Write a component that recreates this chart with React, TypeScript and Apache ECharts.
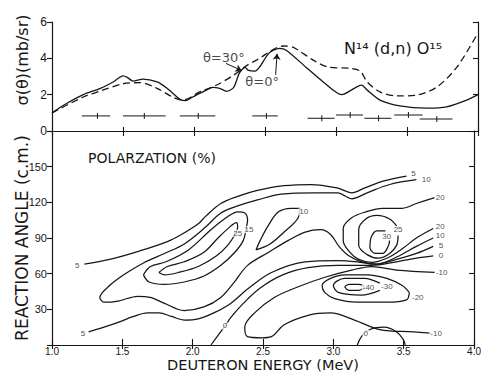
import React, { useEffect, useRef } from "react";
import * as echarts from "echarts";

const FONT = "DejaVu Sans";
const NUM_FONT = "Liberation Sans";
const INK = "#161616";

// ---------- top panel: cross section sigma(theta) vs deuteron energy ----------
const sigmaTheta0: number[][] = [
  [1.0, 1.0], [1.1, 1.5], [1.22, 2.0], [1.34, 2.35], [1.43, 2.7], [1.5, 3.03], [1.53, 2.95],
  [1.57, 2.75], [1.64, 2.86], [1.74, 2.7], [1.81, 2.35], [1.9, 1.75], [1.94, 1.67], [1.99, 1.87],
  [2.09, 2.26], [2.13, 2.4], [2.18, 2.35], [2.23, 2.18], [2.28, 2.4], [2.32, 3.2], [2.36, 3.5],
  [2.38, 3.35], [2.43, 3.3], [2.46, 3.5], [2.53, 4.3], [2.6, 4.55], [2.65, 4.45], [2.79, 3.5],
  [2.91, 2.7], [3.04, 2.0], [3.18, 2.53], [3.22, 2.25], [3.31, 1.7], [3.45, 1.38], [3.64, 1.26],
  [3.78, 1.33], [3.92, 1.7], [4.0, 2.0],
];
const sigmaTheta30: number[][] = [
  [1.0, 1.0], [1.22, 1.87], [1.34, 2.2], [1.5, 2.6], [1.62, 2.66], [1.74, 2.35], [1.85, 1.87],
  [1.92, 1.7], [2.04, 2.15], [2.16, 2.53], [2.28, 3.08], [2.37, 3.6], [2.44, 3.9], [2.63, 4.68],
  [2.7, 4.6], [2.84, 3.9], [2.94, 3.53], [3.1, 3.45], [3.17, 3.3], [3.22, 2.7], [3.31, 2.15],
  [3.43, 1.93], [3.57, 1.98], [3.71, 2.42], [3.85, 3.5], [4.0, 5.4],
];
// [centre energy, sigma, low energy, high energy]
const energySpread: number[][] = [
  [1.32, 0.83, 1.21, 1.41], [1.65, 0.83, 1.5, 1.8], [2.03, 0.83, 1.9, 2.15],
  [2.51, 0.83, 2.41, 2.59], [2.9, 0.7, 2.8, 2.99], [3.1, 0.88, 3.0, 3.19],
  [3.3, 0.7, 3.2, 3.39], [3.51, 0.88, 3.41, 3.61], [3.71, 0.66, 3.59, 3.82],
];
const thetaNotes: [string, number, number][] = [["θ=30°", 2.21, 4.02], ["θ=0°", 2.48, 2.72]];
const thetaArrows: number[][][] = [
  [[2.225, 3.72], [2.335, 3.33]],
  [[2.575, 3.1], [2.585, 4.25]],
];

// ---------- bottom panel: polarization contours (energy, angle) ----------
const c5Upper = [
  [1.23, 68], [1.41, 72], [1.62, 79], [1.82, 87], [1.92, 93], [2.04, 102], [2.09, 108], [2.2, 119],
  [2.32, 125], [2.46, 130], [2.65, 134], [2.84, 135], [3.03, 132], [3.13, 128], [3.22, 132],
  [3.36, 138], [3.52, 142],
];
const c10 = [
  [3.59, 139], [3.4, 135], [3.24, 128], [3.13, 123], [3.03, 128], [2.87, 128], [2.63, 127],
  [2.46, 122], [2.32, 117], [2.2, 111], [2.09, 99], [1.94, 85], [1.8, 77], [1.65, 69], [1.51, 59],
  [1.4, 49], [1.34, 40], [1.37, 36], [1.47, 37], [1.61, 41], [1.7, 40], [1.8, 35], [1.94, 29],
  [2.08, 32], [2.2, 40], [2.29, 52], [2.39, 67], [2.54, 78], [2.68, 88], [2.8, 95], [2.91, 97],
  [2.98, 93], [3.04, 83], [3.11, 75], [3.2, 70], [3.31, 68], [3.45, 74], [3.59, 83], [3.71, 90],
];
const c15 = [
  [1.65, 59], [1.7, 66], [1.81, 70], [1.97, 80], [2.13, 97], [2.25, 108], [2.32, 112], [2.37, 111],
  [2.39, 105], [2.38, 98], [2.36, 88], [2.3, 78], [2.2, 67], [2.08, 58], [1.94, 53], [1.8, 51],
  [1.69, 53], [1.65, 59],
];
const c25Left = [
  [1.76, 61], [1.82, 66], [1.94, 70], [2.08, 78], [2.18, 90], [2.27, 100], [2.31, 103], [2.32, 99],
  [2.3, 93], [2.25, 84], [2.17, 75], [2.04, 66], [1.9, 61], [1.8, 59], [1.76, 61],
];
const c10Island = [
  [2.45, 80], [2.48, 88], [2.54, 101], [2.61, 112], [2.7, 115], [2.76, 115], [2.75, 107],
  [2.65, 95], [2.55, 85], [2.45, 80],
];
const c20 = [
  [3.72, 124], [3.59, 119], [3.49, 115], [3.35, 115], [3.23, 112], [3.13, 107], [3.07, 98],
  [3.07, 88], [3.11, 79], [3.18, 72], [3.27, 69.5], [3.38, 73], [3.49, 81], [3.59, 90], [3.71, 98],
];
const c25Right = [
  [3.45, 100], [3.4, 106], [3.31, 109], [3.23, 106], [3.18, 97], [3.18, 84], [3.24, 76],
  [3.32, 73], [3.4, 77], [3.45, 84], [3.46, 92],
];
const c30 = [[3.37, 96], [3.31, 96], [3.27, 91], [3.26, 82], [3.3, 77], [3.35, 77], [3.39, 83], [3.4, 88]];
const c5Lower = [
  [1.26, 11], [1.37, 15], [1.47, 19], [1.58, 24], [1.68, 27], [1.76, 27], [1.85, 24], [1.94, 21],
  [2.04, 22], [2.15, 27], [2.27, 35], [2.39, 47], [2.56, 61], [2.8, 70], [3.03, 71], [3.17, 70],
  [3.29, 68], [3.45, 72], [3.59, 77], [3.71, 83],
];
const c0Lower = [
  [2.13, 0], [2.18, 8], [2.23, 16], [2.27, 23], [2.36, 35], [2.48, 48], [2.64, 59], [2.82, 65],
  [3.03, 67], [3.27, 67], [3.45, 70], [3.59, 73], [3.71, 75],
];
const cMinus10 = [
  [3.72, 61], [3.45, 63], [3.27, 66], [3.13, 63], [2.94, 57], [2.75, 49], [2.58, 40], [2.44, 27],
  [2.37, 15], [2.39, 7], [2.49, 6], [2.56, 7], [2.65, 17], [2.82, 25], [2.98, 27], [3.15, 21],
  [3.33, 13], [3.57, 11], [3.69, 10],
];
const cMinus20 = [
  [3.54, 44], [3.49, 50], [3.38, 56], [3.24, 59], [3.08, 59], [2.98, 56], [2.92, 50], [2.94, 44],
  [3.01, 39], [3.17, 36], [3.38, 36], [3.52, 38], [3.54, 44],
];
const cMinus30 = [[3.33, 52], [3.22, 56], [3.08, 56], [3.0, 50], [3.04, 44], [3.2, 42], [3.33, 46]];
const cMinus40 = [[3.08, 49], [3.11, 51], [3.18, 51], [3.22, 49], [3.18, 46], [3.11, 46], [3.08, 49]];
const c0Dome = [[3.17, 0], [3.2, 7], [3.26, 13], [3.36, 15], [3.45, 11], [3.5, 4], [3.51, 0]];

const contourLabels: [string, number, number][] = [
  ["5", 1.18, 67], ["5", 1.22, 10], ["25", 2.32, 94], ["15", 2.4, 97], ["10", 2.79, 112],
  ["5", 3.57, 144], ["10", 3.66, 139], ["20", 3.76, 124], ["25", 3.46, 97], ["30", 3.38, 91],
  ["20", 3.76, 100], ["10", 3.76, 92], ["5", 3.765, 83.5], ["0", 3.765, 75], ["-10", 3.77, 61],
  ["-40", 3.25, 48], ["-30", 3.38, 49], ["-20", 3.6, 40], ["-10", 3.73, 10], ["0", 2.23, 16],
  ["0", 3.23, 10],
];

const contourLines = [
  c5Upper, c10, c15, c25Left, c10Island, c20, c25Right, c30, c5Lower, c0Lower,
  cMinus10, cMinus20, cMinus30, cMinus40, c0Dome,
];

export default function App() {
  const ref = useRef<HTMLDivElement>(null);
  useEffect(() => {
    document.body.style.margin = "0";
    const chart = echarts.init(ref.current!, null, { renderer: "svg" });
    const axisLine = { show: true, lineStyle: { color: INK, width: 1.2 } };
    const tick = (inside: boolean, length: number) => ({
      show: true, inside, length, lineStyle: { color: INK, width: 1.1 },
    });
    const noSplit = { show: false };
    const xBase = { type: "value", min: 1, max: 4, interval: 0.5, splitLine: noSplit, axisLine };
    const hidden = "rgba(0,0,0,0)";

    const contourSeries = contourLines.map((d) => ({
      type: "line", xAxisIndex: 2, yAxisIndex: 2, data: d, smooth: 0.35, showSymbol: false,
      symbol: "none", lineStyle: { color: INK, width: 1.25 }, silent: true, z: 2,
    }));

    const option: any = {
      animation: false,
      backgroundColor: "#fff",
      textStyle: { fontFamily: FONT, color: INK },
      grid: [
        { left: 52, right: 6, top: 22, height: 109, containLabel: false },
        { left: 52, right: 6, top: 131, height: 214, containLabel: false },
      ],
      xAxis: [
        { ...xBase, gridIndex: 0, position: "bottom", axisTick: tick(true, 4), axisLabel: { show: false } },
        { ...xBase, gridIndex: 0, position: "top", axisTick: tick(true, 5), axisLabel: { show: false } },
        {
          ...xBase, gridIndex: 1, position: "bottom", axisTick: tick(true, 6),
          axisLabel: {
            show: true, fontSize: 10, lineHeight: 8, fontFamily: NUM_FONT, color: INK, margin: 2,
            formatter: (v: number) => v.toFixed(1),
          },
        },
        { ...xBase, gridIndex: 1, position: "top", axisTick: tick(true, 4), axisLabel: { show: false } },
      ],
      yAxis: [
        {
          type: "value", gridIndex: 0, min: 0, max: 6, interval: 2, position: "left", axisLine,
          axisTick: tick(false, 5), splitLine: noSplit,
          axisLabel: { fontSize: 12, fontFamily: NUM_FONT, color: INK, margin: 5 },
        },
        {
          type: "value", gridIndex: 0, min: 0, max: 6, interval: 2, position: "right", axisLine,
          axisTick: tick(true, 5), splitLine: noSplit, axisLabel: { show: false },
        },
        {
          type: "value", gridIndex: 1, min: 0, max: 180, interval: 30, position: "left", axisLine,
          axisTick: tick(false, 5), splitLine: noSplit,
          axisLabel: {
            fontSize: 11, fontFamily: NUM_FONT, color: INK, margin: 5,
            formatter: (v: number) => (v === 0 || v === 180 ? "" : String(v)),
          },
        },
        {
          type: "value", gridIndex: 1, min: 0, max: 180, interval: 30, position: "right", axisLine,
          axisTick: tick(true, 5), splitLine: noSplit, axisLabel: { show: false },
        },
      ],
      series: [
        {
          type: "line", xAxisIndex: 0, yAxisIndex: 0, data: sigmaTheta0, smooth: 0.25,
          showSymbol: false, symbol: "none", lineStyle: { color: INK, width: 1.3 }, z: 3,
        },
        {
          type: "line", xAxisIndex: 0, yAxisIndex: 0, data: sigmaTheta30, smooth: 0.3,
          showSymbol: false, symbol: "none", lineStyle: { color: INK, width: 1.3, type: [7, 4] }, z: 3,
          markLine: {
            silent: true, symbol: ["none", "arrow"], symbolSize: 6, animation: false,
            lineStyle: { color: INK, width: 1, type: "solid" }, label: { show: false },
            data: thetaArrows.map(([a, b]) => [{ coord: a }, { coord: b }]),
          },
        },
        {
          type: "custom", xAxisIndex: 0, yAxisIndex: 0, data: energySpread,
          encode: { x: 0, y: 1 },
          renderItem: (_p: any, api: any) => {
            const c = api.coord([api.value(0), api.value(1)]);
            const lo = api.coord([api.value(2), api.value(1)]);
            const hi = api.coord([api.value(3), api.value(1)]);
            const st = { stroke: INK, lineWidth: 1 };
            return {
              type: "group",
              children: [
                { type: "line", shape: { x1: lo[0], y1: lo[1], x2: hi[0], y2: hi[1] }, style: st },
                { type: "line", shape: { x1: c[0], y1: c[1] - 3, x2: c[0], y2: c[1] + 3 }, style: st },
              ],
            };
          },
          z: 3,
        },
        {
          type: "scatter", xAxisIndex: 0, yAxisIndex: 0, symbolSize: 2, itemStyle: { color: hidden },
          data: thetaNotes.map(([t, e, s]) => ({ name: t, value: [e, s] })),
          label: { show: true, position: "inside", formatter: "{b}", fontSize: 13, fontFamily: FONT, color: INK },
          z: 6, silent: true,
        },
        ...contourSeries,
        {
          type: "scatter", xAxisIndex: 2, yAxisIndex: 2, symbolSize: 2, itemStyle: { color: hidden },
          data: contourLabels.map(([t, e, a]) => ({ name: t, value: [e, a] })),
          label: {
            show: true, position: "inside", formatter: "{b}", fontSize: 8, fontFamily: NUM_FONT,
            color: INK, backgroundColor: "#fff", padding: [0, 1], lineHeight: 7,
          },
          z: 6, silent: true,
        },
      ],
      graphic: [
        {
          type: "text", x: 22, y: 60, rotation: Math.PI / 2,
          style: { text: "σ(θ)(mb/sr)", fontSize: 16, fontFamily: FONT, fill: INK, textAlign: "center", textVerticalAlign: "middle" },
        },
        {
          type: "text", x: 22, y: 238, rotation: Math.PI / 2,
          style: { text: "REACTION ANGLE (c.m.)", fontSize: 17, fontFamily: FONT, fill: INK, textAlign: "center", textVerticalAlign: "middle" },
        },
        {
          type: "text", x: 263, y: 365,
          style: {
            text: "DEUTERON ENERGY (MeV)", fontSize: 14.5, lineHeight: 13, fontFamily: FONT, fill: INK,
            textAlign: "center", textVerticalAlign: "middle",
          },
        },
        {
          type: "text", x: 152, y: 158,
          style: { text: "POLARZATION (%)", fontSize: 14, fontFamily: FONT, fill: INK, textAlign: "center", textVerticalAlign: "middle" },
        },
        {
          type: "text", x: 393, y: 48,
          style: { text: "N¹⁴ (d,n) O¹⁵", fontSize: 16, fontFamily: FONT, fill: INK, textAlign: "center", textVerticalAlign: "middle" },
        },
      ],
    };
    chart.setOption(option);
    return () => chart.dispose();
  }, []);
  return <div ref={ref} style={{ width: 484, height: 373, background: "#fff" }} />;
}
